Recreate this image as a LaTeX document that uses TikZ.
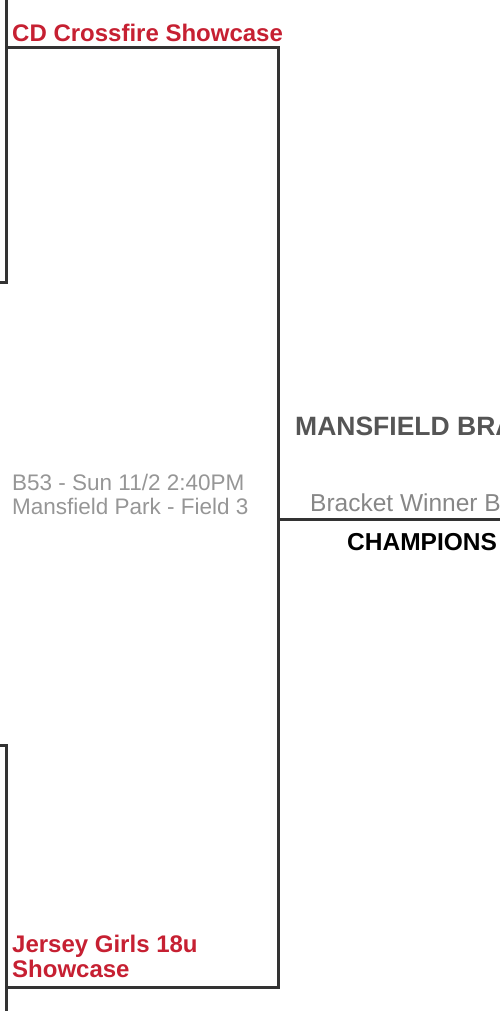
\documentclass[tikz,border=0pt]{standalone}
\usepackage{fontspec}
\setmainfont{Liberation Sans}
\definecolor{teamred}{RGB}{198,32,50}
\definecolor{linegray}{RGB}{51,51,51}
\definecolor{infogray}{RGB}{150,150,150}
\definecolor{titlegray}{RGB}{85,85,85}
\tikzset{
    bline/.style={line width=3pt, linegray},
    team/.style={anchor=base west, inner sep=0pt, teamred, font=\fontsize{24}{25}\selectfont\bfseries},
    info/.style={anchor=base west, inner sep=0pt, infogray, font=\fontsize{22.5}{24}\selectfont}
}
\begin{document}
\begin{tikzpicture}[x=1pt, y=-1pt]
    \useasboundingbox (0,0) rectangle (500,1011);

    % bracket lines
    \coordinate (tl) at (6,48);
    \coordinate (tr) at (278,48);
    \coordinate (bl) at (6,987);
    \coordinate (br) at (278,987);
    \coordinate (win) at (278,519);
    \draw[bline] (6,-5) -- (6,282) -- (-5,282);
    \draw[bline] (-5,745) -- (6,745) -- (6,1016);
    \draw[bline] (tl) -- (tr) -- (br) -- (bl);
    \draw[bline] (win) -- (505,519);

    % teams
    \node[team] (top) at (12,42) {CD Crossfire Showcase};
    \node[team] (bot1) at (12,952) {Jersey Girls 18u};
    \node[team] (bot2) at (12,977) {Showcase};

    % game info
    \node[info] (game) at (12,490) {B53 - Sun 11/2 2:40PM};
    \node[info] (field) at (12,514) {Mansfield Park - Field 3};

    % winner side
    \node[anchor=base west, inner sep=0pt, titlegray, font=\fontsize{26.5}{28}\selectfont\bfseries] (title) at (295,435) {MANSFIELD BRACKET};
    \node[anchor=base west, inner sep=0pt, infogray!90!black, font=\fontsize{24.5}{26}\selectfont] (winner) at (310,511) {Bracket Winner B};
    \node[anchor=base west, inner sep=0pt, black, font=\fontsize{24.5}{26}\selectfont\bfseries] (champ) at (347,550) {CHAMPIONS};
\end{tikzpicture}
\end{document}
